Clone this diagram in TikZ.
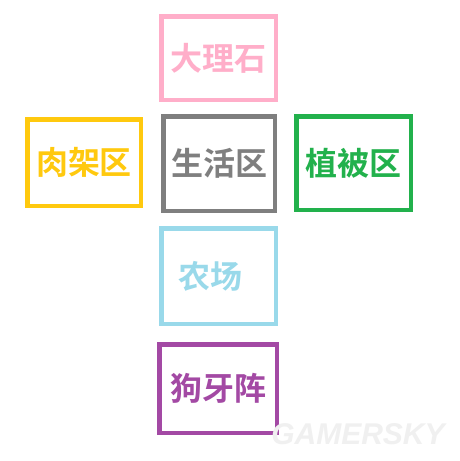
\documentclass[tikz,border=0pt]{standalone}
\usepackage{fontspec}
\newfontfamily\cjk{Noto Sans CJK SC}[BoldFont={Noto Sans CJK SC Bold}]
\newfontfamily\wm{Liberation Sans}
\definecolor{cRose}{HTML}{FFAEC9}
\definecolor{cGold}{HTML}{FFC90E}
\definecolor{cGray}{HTML}{7F7F7F}
\definecolor{cGreen}{HTML}{22B14C}
\definecolor{cTurq}{HTML}{99D9EA}
\definecolor{cPurple}{HTML}{A349A4}
\tikzset{
  zone/.style={draw=#1, text=#1, line width=4.5pt, inner sep=0pt,
    font=\cjk\bfseries\fontsize{32}{32}\selectfont},
}
\begin{document}
\begin{tikzpicture}[x=1pt,y=-1pt]
\useasboundingbox[fill=white] (0,0) rectangle (459,461);
\node[zone=cRose, minimum width=114.5pt, minimum height=83.5pt] (stone) at (218.5,58) {大理石};
\node[zone=cGold, minimum width=113.5pt, minimum height=86.5pt] (meat) at (84,162.5) {肉架区};
\node[zone=cGray, minimum width=111.5pt, minimum height=94.5pt] (life) at (219,163.5) {生活区};
\node[zone=cGreen, minimum width=114.5pt, minimum height=93.5pt] (plant) at (353.5,163) {植被区};
\node[zone=cTurq, minimum width=114.5pt, minimum height=95.5pt] (farm) at (218.5,276) {农场\kern17pt};
\node[zone=cPurple, minimum width=117.5pt, minimum height=88.5pt] (dog) at (218,388.5) {狗牙阵};
\node[text=black!6, font=\wm\bfseries\itshape\fontsize{30}{30}\selectfont, inner sep=0pt] (mark) at (358,434) {GAMERSKY};
\end{tikzpicture}
\end{document}
